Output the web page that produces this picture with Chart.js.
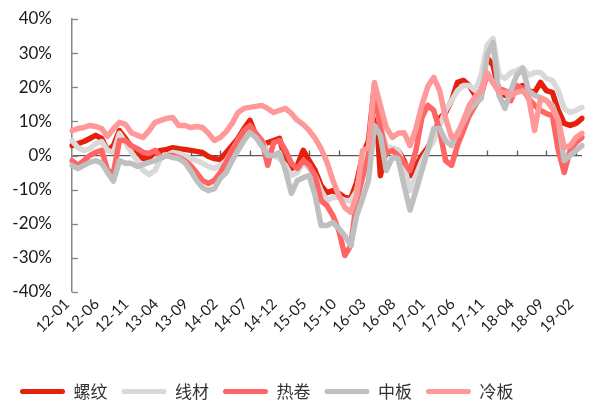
<!DOCTYPE html>
<html>
<head>
<meta charset="utf-8">
<script src="https://cdn.jsdelivr.net/npm/chart.js@4/dist/chart.umd.min.js"></script>
<style>
  html, body { margin: 0; padding: 0; background: #fff; }
  #wrap { width: 602px; height: 407px; }
</style>
</head>
<body>
<div id="wrap"><canvas id="myChart" width="602" height="407"></canvas></div>
<script>
// months 12-01 .. 19-03
const months = [];
for (let y = 12; y <= 19; y++) {
	for (let m = 1; m <= 12; m++) {
		if (y === 19 && m > 3) break;
		months.push(y + '-' + String(m).padStart(2, '0'));
	}
}
const seriesNames = ['螺纹', '线材', '热卷', '中板', '冷板'];
const yTicks = [-40, -30, -20, -10, 0, 10, 20, 30, 40];

const luowen = [2.9, 3.5, 4.1, 5, 5.9, 5, 1.5, 2.9, 7.3, 5, 2.6, 0.9, -0.9, -0.6, 0.9, 1.5, 1.8, 2.3, 2, 1.8,
	1.5, 1.2, 0.9, -0.3, -0.9, -1.2, 0.9, 2.9, 5, 7.9, 10.3, 5.9, 2.9, 3.8, 4.4, 5, -1.5, -3.8, -2.9, 1.5,
	-1.5, -4.4, -8.8, -10.9, -10.3, -11.1, -12.3, -12.6, -7.9, 0, 4.4, 20.5, -5.9, 1.5, 2, 1.5, -1.5, -5.9, -2.9, 0,
	2.3, 5.9, 10.9, 12.6, 16.1, 21.4, 22, 20.5, 17.6, 22, 28.7, 26.4, 19, 17.6, 19, 19.6, 20.5, 19, 18.5, 21.4,
	19, 18.5, 13.2, 9.4, 8.8, 9.4, 10.9];
const xiancai = [4.4, 2.3, 1.5, 2, 3.5, 4.1, 1.5, 0.9, 6.5, 3.8, 0.9, -1.5, -4.4, -5.6, -4.4, -0.6, 0, 0.9, 0.6, 0,
	-0.9, -1.5, -2.3, -3.2, -3.8, -2.9, -1.5, 1.5, 4.4, 6.7, 7.9, 6.2, 4.4, 0.9, 0, -0.9, -2.9, -5.9, -5, -2,
	-3.8, -5.9, -10.3, -13.2, -12.3, -12.3, -13.2, -13.2, -10.3, -1.5, 2, 16.1, 8.8, 2.9, 2, 1.5, -2.9, -10.3, -5.9, -1.5,
	1.5, 4.4, 8.8, 13.2, 16.1, 19, 20.5, 20.5, 19, 23.5, 32.3, 34.3, 23.5, 22.6, 24.3, 24.9, 25.8, 23.5, 24.3, 24.3,
	22.6, 22, 19, 13.8, 12.6, 13.2, 14.1];
const rejuan = [-1.5, -2.9, -1.5, 0, 0.9, 1.5, -4.4, -5, 4.4, 4.4, 2.9, 2, 0.9, 0.6, 1.5, -0.6, 0, 0, -0.6, -1.5,
	-2.9, -5, -7.3, -8.2, -7.3, -5, -2, 1.5, 4.4, 7.3, 8.8, 6.5, 4.4, -2.9, 3.8, 4.4, 1.5, -2.3, -3.8, -1.5,
	-2.9, -5.9, -13.2, -14.7, -17.6, -22, -29.3, -26.4, -13.2, -6.5, 0, 19, 8.2, 0.6, 1.5, 0, -2, -4.4, 1.5, 11.1,
	14.7, 13.2, 7.3, -1.5, -2.9, 2.9, 7.3, 11.7, 14.7, 17.6, 24, 21.4, 19.6, 19, 16.1, 20.5, 19.6, 16.7, 14.7, 13.2,
	12.3, 11.7, 1.5, -5, 1.5, 3.8, 5.3];
const zhongban = [-2.9, -3.8, -2.9, -2, -1.5, -2.3, -5, -7.5, -1.5, -2.3, -2.3, -3.2, -2.6, -2, -1.5, -0.6, 0, -0.6, -0.9, -2,
	-4.4, -7.3, -9.4, -10.3, -9.7, -6.7, -5, -1.5, 1.5, 4.4, 6.7, 5.3, 2.9, 0, 0, 0.9, -4.4, -11.1, -7.3, -6.5,
	-5.9, -11.7, -20.5, -20.5, -19.6, -21.4, -23.5, -26.4, -17.6, -12.6, -7.3, 8.8, 5.9, -4.4, -0.6, -0.9, -8.8, -16, -10.3, -4.4,
	1.5, 7.9, 7.9, 4.4, 2.9, 6.7, 9.7, 13.2, 15.2, 16.7, 29.3, 33.1, 17.6, 13.8, 19, 23.5, 25.5, 19, 17.6, 17,
	16.1, 14.7, 10.3, -1.5, 0, 1.5, 2.9];
const lengban = [7.3, 7.9, 8.2, 8.8, 8.5, 7.9, 5.6, 7.9, 9.7, 9.1, 6.7, 5.9, 5.3, 7.3, 9.7, 10.3, 10.9, 11.1, 8.8, 8.8,
	8.2, 8.5, 8.2, 6.5, 4.4, 5.3, 7, 9.4, 12.6, 13.8, 14.1, 14.4, 14.7, 13.8, 12.6, 13.2, 13.8, 12.3, 10.3, 9.1,
	7.3, 5, 2, -2, -7.3, -11.7, -15.2, -16.7, -11.7, 1.5, 2.3, 21.4, 14.7, 8.2, 5.3, 6.5, 6.7, 2.9, 7.9, 14.7,
	20.2, 22.9, 19, 10.9, 5.3, 5.9, 10.3, 14.7, 17.3, 19, 24.3, 21.4, 18.5, 18.5, 17.6, 18.5, 19, 17, 7.3, 16.7,
	16.1, 13.8, 10.3, 2.3, 2.9, 5.3, 6.5];

const colors = ['#E5200C', '#D9D9D9', '#FF6565', '#BFBFBF', '#FF9999'];
const allSeries = [luowen, xiancai, rejuan, zhongban, lengban];

// zero line tick marks + inward y ticks
const axisMarks = {
	id: 'axisMarks',
	beforeDatasetsDraw(chart) {
		const {ctx, scales: {x, y}} = chart;
		const y0 = y.getPixelForValue(0);
		ctx.save();
		ctx.lineWidth = 1.3;
		ctx.strokeStyle = '#595959';
		months.forEach((m, i) => {
			if (i % 5 === 0 && i > 0) {
				const px = Math.round(x.getPixelForValue(i)) + 0.5;
				ctx.beginPath();
				ctx.moveTo(px, y0);
				ctx.lineTo(px, y0 - 5);
				ctx.stroke();
			}
		});
		ctx.strokeStyle = '#868686';
		yTicks.forEach(v => {
			const py = Math.round(y.getPixelForValue(v)) + 0.5;
			ctx.beginPath();
			ctx.moveTo(y.right, py);
			ctx.lineTo(y.right + 6, py);
			ctx.stroke();
		});
		ctx.restore();
	}
};

const ctx = document.getElementById('myChart').getContext('2d');
const myChart = new Chart(ctx, {
	type: 'line',
	data: {
		labels: months,
		datasets: allSeries.map((d, i) => ({
			label: seriesNames[i],
			data: d,
			borderColor: colors[i],
			backgroundColor: colors[i],
			borderWidth: 5.5,
			pointRadius: 0,
			tension: 0,
			borderJoinStyle: 'round',
			borderCapStyle: 'round',
			order: 5 - i
		}))
	},
	options: {
		responsive: false,
		animation: false,
		layout: { padding: { top: 19, right: 20, bottom: -3, left: 6 } },
		plugins: {
			tooltip: { enabled: false },
			legend: {
				position: 'bottom',
				align: 'start',
				labels: {
					boxWidth: 45,
					boxHeight: 5,
					padding: 14,
					useBorderRadius: true,
					borderRadius: 2.5,
					color: '#333',
					font: { family: '"Noto Sans CJK SC", sans-serif', size: 17 },
					generateLabels: chart => chart.data.datasets.map((d, i) => ({
						text: d.label,
						fillStyle: d.borderColor,
						strokeStyle: d.borderColor,
						lineWidth: 0,
						hidden: false,
						datasetIndex: i,
						borderRadius: 2.5,
						fontColor: '#333'
					}))
				}
			}
		},
		scales: {
			x: {
				grid: { display: false },
				border: { display: false },
				afterFit: s => { s.height = 77; },
				ticks: {
					autoSkip: false,
					maxRotation: 45,
					minRotation: 45,
					padding: -5,
					labelOffset: -5,
					color: '#1a1a1a',
					font: { family: 'Lato, sans-serif', size: 15 },
					callback: (v, i) => (i % 5 === 0 ? months[i] : '')
				}
			},
			y: {
				min: -40,
				max: 40,
				afterFit: s => { s.width = 66; s.paddingTop = 0; s.paddingBottom = 0; },
				border: { color: '#868686', width: 1.5 },
				grid: {
					drawTicks: false,
					color: c => (c.tick && c.tick.value === 0 ? '#595959' : 'rgba(0,0,0,0)'),
					lineWidth: 1.3
				},
				ticks: {
					stepSize: 10,
					padding: 20,
					color: '#1a1a1a',
					font: { family: 'Lato, sans-serif', size: 17 },
					callback: v => v + '%'
				}
			}
		}
	},
	plugins: [axisMarks]
});
</script>
</body>
</html>
